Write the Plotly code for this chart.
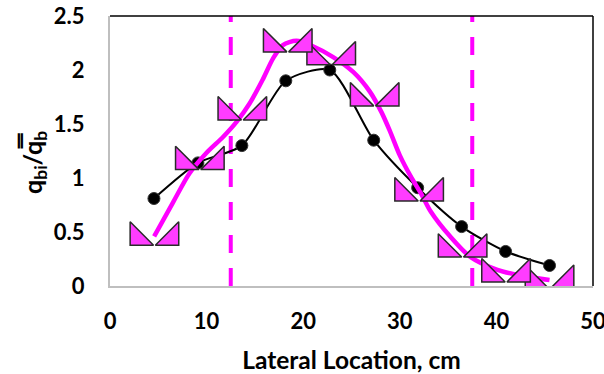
import plotly.graph_objects as go

# ---- data ----
obs_x = [4.55, 9.1, 13.65, 18.2, 22.75, 27.3, 31.85, 36.4, 40.95, 45.5]
obs_y = [0.81, 1.14, 1.30, 1.90, 2.00, 1.35, 0.91, 0.55, 0.32, 0.19]

pred_x = [4.6, 9.3, 13.7, 18.4, 22.9, 27.4, 32.0, 36.5, 41.0, 45.5]
pred_y = [0.45, 1.15, 1.61, 2.24, 2.12, 1.74, 0.86, 0.34, 0.11, 0.05]

fit_x = [4.57, 6.5, 8.2, 9.95, 11.7, 13.1, 14.45, 15.8, 16.9, 17.9, 19.3,
         21.0, 23.1, 25.2, 26.9, 28.1, 29.0, 30.0, 31.1, 32.3, 33.2, 35.2,
         37.3, 40.1, 42.9, 45.5]
fit_y = [0.46, 0.77, 1.04, 1.23, 1.38, 1.52, 1.69, 1.91, 2.11, 2.23, 2.27,
         2.22, 2.12, 1.98, 1.80, 1.61, 1.43, 1.21, 1.02, 0.84, 0.69, 0.46,
         0.27, 0.15, 0.09, 0.055]

boundaries = [12.5, 37.5]

x_range = [0, 50]
y_range = [0, 2.5]
x_ticks = [0, 10, 20, 30, 40, 50]
y_ticks = [0, 0.5, 1, 1.5, 2, 2.5]
y_tick_text = ["0", "0.5", "1", "1.5", "2", "2.5"]

# ---- layout geometry ----
W, H = 604, 374
ML, MR, MT, MB = 110, 11, 16, 88
plot_w = W - ML - MR
plot_h = H - MT - MB

# marker pieces offset in pixels -> axis units (style, not data)
dx = 16.5 * (x_range[1] - x_range[0]) / plot_w

FONT = "Lato"
MAG = "#FF00FF"
MFILL = "#FF3CFF"

fig = go.Figure()

# dashed boundaries
for b in boundaries:
    fig.add_trace(go.Scatter(x=[b, b], y=y_range, mode="lines",
                             line=dict(color=MAG, width=4, dash="18px,15px"),
                             hoverinfo="skip", showlegend=False))

# predicted points: drawn as two right triangles (left and right pieces)
MSIZE = 26
fig.add_trace(go.Scatter(x=pred_x, y=pred_y, mode="markers", xaxis="x2",
                         marker=dict(symbol="triangle-sw", size=MSIZE, color=MFILL,
                                     line=dict(color="#2a2a2a", width=1.5)),
                         showlegend=False))
fig.add_trace(go.Scatter(x=pred_x, y=pred_y, mode="markers", xaxis="x3",
                         marker=dict(symbol="triangle-se", size=MSIZE, color=MFILL,
                                     line=dict(color="#2a2a2a", width=1.5)),
                         showlegend=False))

# observed (black smooth line with markers)
fig.add_trace(go.Scatter(x=obs_x, y=obs_y, mode="lines+markers",
                         line=dict(color="black", width=2, shape="spline", smoothing=0.7),
                         marker=dict(symbol="circle", size=12, color="black",
                                     line=dict(color="#333333", width=1)),
                         showlegend=False))

# fitted magenta curve
fig.add_trace(go.Scatter(x=fit_x, y=fit_y, mode="lines",
                         line=dict(color=MAG, width=4.5, shape="spline", smoothing=0.8),
                         showlegend=False))

tickfont = dict(family=FONT, size=22, color="black")

fig.update_layout(
    width=W, height=H,
    margin=dict(l=ML, r=MR, t=MT, b=MB, pad=0, autoexpand=False),
    paper_bgcolor="white", plot_bgcolor="white",
    font=dict(family=FONT, color="black"),
    xaxis=dict(range=x_range, tickvals=x_ticks, ticktext=[f"<b>{t}</b>" for t in x_ticks],
               showgrid=False, zeroline=False, automargin=False,
               showline=True, linecolor="#BFBFBF", linewidth=2, ticks="",
               tickfont=tickfont, ticklabelstandoff=15, ticklabeloverflow="allow",
               title=dict(text="<b>Lateral Location, cm</b>",
                          font=dict(family=FONT, size=24.5), standoff=20)),
    yaxis=dict(range=y_range, tickvals=y_ticks, ticktext=[f"<b>{t}</b>" for t in y_tick_text],
               showgrid=False, zeroline=False, automargin=False,
               showline=True, linecolor="#BFBFBF", linewidth=2, ticks="",
               tickfont=tickfont, ticklabelstandoff=19, ticklabeloverflow="allow"),
    xaxis2=dict(range=[x_range[0] + dx, x_range[1] + dx], overlaying="x", visible=False),
    xaxis3=dict(range=[x_range[0] - dx, x_range[1] - dx], overlaying="x", visible=False),
    shapes=[
        dict(type="line", xref="paper", yref="paper", x0=0, x1=1, y0=1, y1=1,
             line=dict(color="black", width=1.5)),
        dict(type="line", xref="paper", yref="paper", x0=1, x1=1, y0=0, y1=1,
             line=dict(color="black", width=1.5)),
    ],
    annotations=[
        dict(text="<b>q<sub>bi</sub>/q\u033f<sub>b</sub></b>", textangle=-90,
             xref="paper", yref="paper", x=0, y=0.5, xanchor="center", yanchor="middle",
             xshift=-76, yshift=-12, showarrow=False,
             font=dict(family=FONT, size=25, color="black")),
    ],
)

fig.write_html("out.html")
